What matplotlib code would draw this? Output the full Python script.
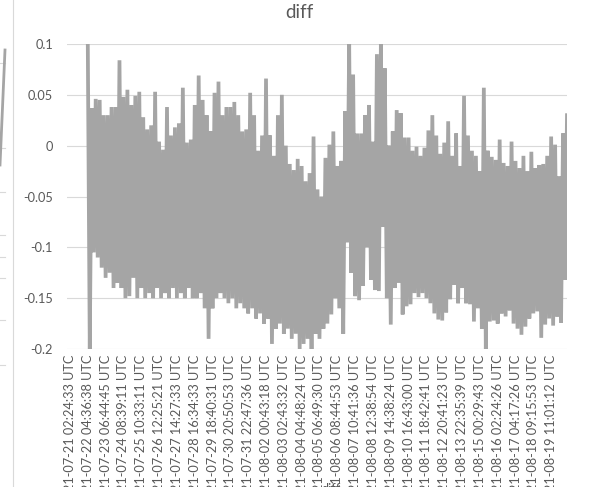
import numpy as np
import matplotlib
matplotlib.use("Agg")
import matplotlib.pyplot as plt
from matplotlib.lines import Line2D

plt.rcParams["font.family"] = ["Lato", "DejaVu Sans"]

# Local highs and lows of the "diff" signal, in time order (the series alternates high/low)
diff_highs = [
    0.100, 0.037, 0.046, 0.045, 0.030, 0.030, 0.038, 0.038, 0.084, 0.048,
    0.055, 0.040, 0.049, 0.053, 0.028, 0.016, 0.020, 0.053, 0.004, -0.004,
    0.038, 0.010, 0.018, 0.022, 0.057, 0.003, 0.006, 0.040, 0.069, 0.045,
    0.030, 0.014, 0.052, 0.063, 0.030, 0.038, 0.038, 0.043, 0.030, 0.014,
    0.016, 0.052, 0.030, -0.005, 0.010, 0.066, 0.010, -0.010, 0.030, 0.050,
    0.000, -0.018, -0.024, -0.013, -0.020, -0.035, -0.027, 0.009, -0.043, -0.050,
    -0.012, 0.001, 0.014, -0.020, -0.015, 0.034, 0.100, 0.070, 0.012, 0.012,
    0.030, 0.040, 0.004, 0.090, 0.100, 0.076, 0.000, 0.014, 0.035, 0.032,
    0.008, 0.008, -0.005, -0.001, -0.010, -0.002, 0.015, 0.030, 0.010, -0.008,
    0.003, 0.024, -0.010, 0.012, -0.020, 0.049, 0.010, -0.005, -0.010, -0.025,
    0.057, -0.005, -0.011, -0.014, 0.006, -0.017, -0.020, 0.004, -0.015, -0.022,
    -0.010, -0.025, -0.006, -0.022, -0.019, -0.018, -0.010, 0.009, 0.001, -0.030,
    0.012, 0.030,
]
diff_lows = [
    -0.200, -0.105, -0.110, -0.120, -0.130, -0.125, -0.140, -0.135, -0.140, -0.150,
    -0.148, -0.130, -0.150, -0.140, -0.150, -0.145, -0.150, -0.140, -0.150, -0.145,
    -0.150, -0.140, -0.150, -0.145, -0.150, -0.140, -0.150, -0.150, -0.145, -0.160,
    -0.190, -0.160, -0.150, -0.145, -0.150, -0.155, -0.150, -0.160, -0.155, -0.160,
    -0.165, -0.160, -0.170, -0.165, -0.175, -0.170, -0.195, -0.180, -0.175, -0.185,
    -0.180, -0.190, -0.185, -0.200, -0.195, -0.190, -0.200, -0.185, -0.190, -0.180,
    -0.175, -0.166, -0.150, -0.160, -0.185, -0.095, -0.125, -0.148, -0.152, -0.138,
    -0.100, -0.132, -0.142, -0.143, -0.080, -0.150, -0.176, -0.140, -0.135, -0.166,
    -0.158, -0.156, -0.145, -0.149, -0.145, -0.150, -0.155, -0.165, -0.171, -0.172,
    -0.164, -0.151, -0.137, -0.155, -0.140, -0.155, -0.156, -0.173, -0.160, -0.180,
    -0.200, -0.173, -0.172, -0.175, -0.165, -0.168, -0.162, -0.175, -0.180, -0.186,
    -0.178, -0.170, -0.165, -0.163, -0.189, -0.176, -0.170, -0.177, -0.168, -0.174,
    -0.132,
]

# Category labels shown on the time axis (one every 9 samples)
time_labels = [
    "2021-07-21 02:24:33 UTC", "2021-07-22 04:36:38 UTC", "2021-07-23 06:44:45 UTC",
    "2021-07-24 08:39:11 UTC", "2021-07-25 10:33:11 UTC", "2021-07-26 12:25:21 UTC",
    "2021-07-27 14:27:33 UTC", "2021-07-28 16:34:33 UTC", "2021-07-29 18:40:31 UTC",
    "2021-07-30 20:50:53 UTC", "2021-07-31 22:47:36 UTC", "2021-08-02 00:43:18 UTC",
    "2021-08-03 02:43:32 UTC", "2021-08-04 04:48:24 UTC", "2021-08-05 06:49:30 UTC",
    "2021-08-06 08:44:53 UTC", "2021-08-07 10:41:36 UTC", "2021-08-08 12:38:54 UTC",
    "2021-08-09 14:38:24 UTC", "2021-08-10 16:43:00 UTC", "2021-08-11 18:42:41 UTC",
    "2021-08-12 20:41:23 UTC", "2021-08-13 22:35:39 UTC", "2021-08-15 00:29:43 UTC",
    "2021-08-16 02:24:26 UTC", "2021-08-17 04:17:26 UTC", "2021-08-18 09:15:53 UTC",
    "2021-08-19 11:01:12 UTC",
]
y_ticks = [-0.2, -0.15, -0.1, -0.05, 0, 0.05, 0.1]
y_tick_labels = ["-0.2", "-0.15", "-0.1", "-0.05", "0", "0.05", "0.1"]

# Build the series: highs on even samples, lows on odd samples
diff = np.empty(len(diff_highs) + len(diff_lows))
diff[0::2] = diff_highs
diff[1::2] = diff_lows
x = np.arange(len(diff))

W, H = 607, 487
fig = plt.figure(figsize=(W / 100, H / 100), dpi=100)
fig.patch.set_facecolor("white")

ax = fig.add_axes([67 / W, 1 - 349 / H, 500 / W, 305 / H])
ax.plot(x, diff, color="#A5A5A5", lw=2.7, solid_joinstyle="miter", zorder=3)

label_step = 9
tick_pos = [(i - 1) * label_step for i in range(len(time_labels))]
ax.set_xlim(-label_step - 1.5, len(diff) - 1)
ax.set_ylim(-0.2, 0.1)

ax.set_yticks(y_ticks)
ax.set_yticklabels(y_tick_labels)
ax.set_xticks(tick_pos)
ax.set_xticklabels(time_labels, rotation=90, ha="center", va="top")

ax.grid(axis="y", color="#D9D9D9", lw=0.8)
ax.set_axisbelow(True)
for s in ax.spines.values():
    s.set_visible(False)
ax.tick_params(axis="both", length=0, colors="#595959", labelsize=9.2)
ax.tick_params(axis="y", pad=10)
ax.tick_params(axis="x", pad=4)

# Title
fig.text(299 / W, 1 - 12 / H, "diff", ha="center", va="center",
         fontsize=13.5, color="#595959")

# Legend sits under the rotated labels
handle = Line2D([], [], color="#A5A5A5", lw=2.2)
leg = fig.legend([handle], ["diff"], loc="center", bbox_to_anchor=(318 / W, -2 / H),
                 frameon=False, fontsize=9.2, handlelength=1.6, handletextpad=0.4,
                 labelcolor="#595959")
leg.set_zorder(-1)

# Edge of the neighbouring chart on the left
fig.add_artist(Line2D([13 / W, 13 / W], [0, 1], color="#D9D9D9", lw=0.8))
for yp in [63, 148, 192, 235, 257, 278, 320, 365]:
    fig.add_artist(Line2D([0, 5 / W], [1 - yp / H, 1 - yp / H], color="#D9D9D9", lw=0.8))
fig.add_artist(Line2D([5 / W, 0], [1 - 50 / H, 1 - 165 / H], color="#A5A5A5", lw=2.0))

fig.savefig("out.png", dpi=100, facecolor="white")
